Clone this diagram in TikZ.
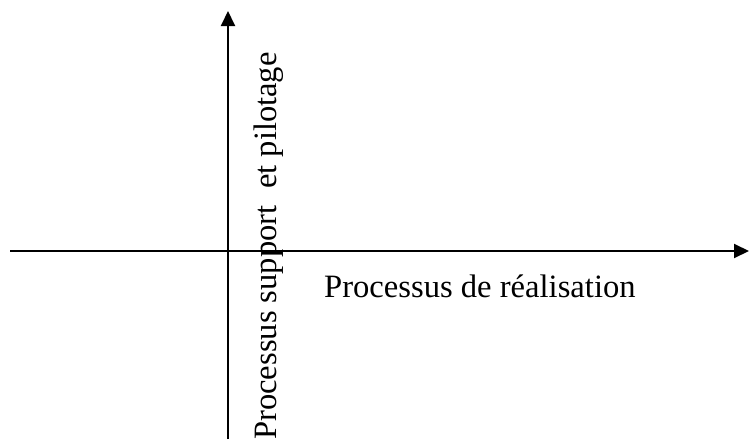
\documentclass[tikz,border=0pt]{standalone}
\usepackage{fontspec}
\setmainfont{Liberation Serif}
\usetikzlibrary{arrows.meta}
\begin{document}
\begin{tikzpicture}[x=1pt,y=-1pt,
  axis/.style={line width=2pt,-{Triangle[length=15pt,width=14pt]}},
  lbl/.style={inner sep=0pt,font=\fontsize{32.6}{39}\selectfont}]
\useasboundingbox (0,0) rectangle (749,439);
% axes
\coordinate (xs) at (10,251);
\coordinate (xe) at (749,251);
\coordinate (ys) at (228,439);
\coordinate (ye) at (228,11);
\draw[axis] (xs) -- (xe);
\draw[axis] (ys) -- (ye);
% axis labels
\node[lbl,anchor=base west] (hx) at (324,297) {Processus de réalisation};
\node[lbl,anchor=base west,rotate=90] (vy) at (276,440) {Processus support\ \ et pilotage};
\end{tikzpicture}
\end{document}
